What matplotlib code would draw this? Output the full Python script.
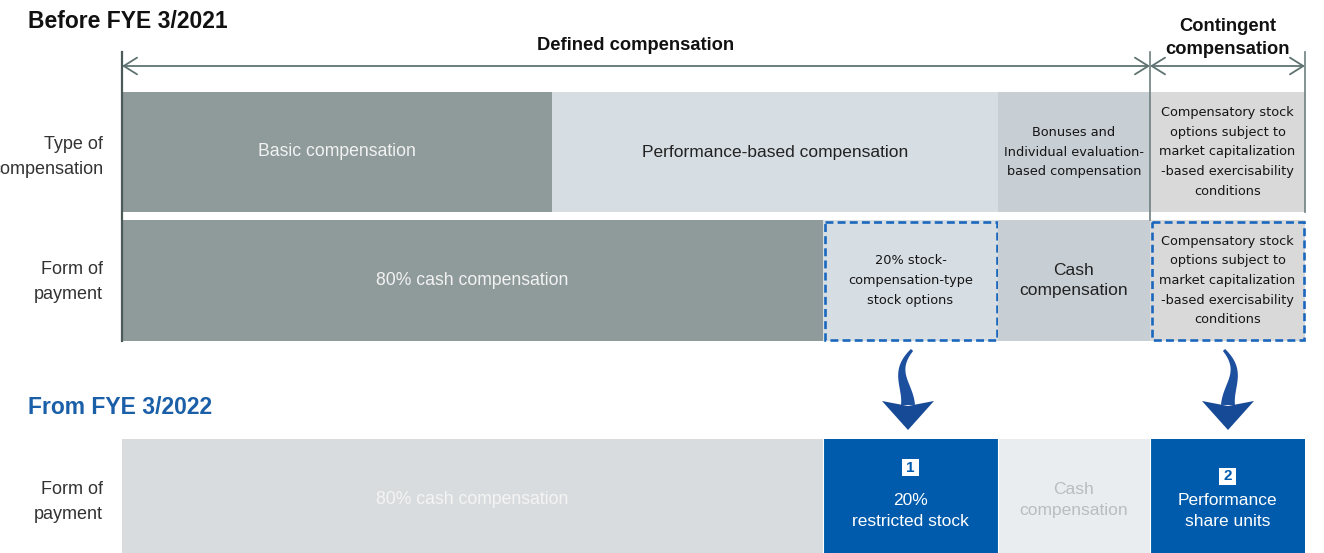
import numpy as np
import matplotlib.pyplot as plt
from matplotlib.patches import Rectangle, FancyArrowPatch, Polygon

plt.rcParams['font.family'] = ['Liberation Sans', 'DejaVu Sans']

# segment edges along the bar (pixel-like units of the layout)
type_edges = [122, 552, 998, 1150, 1305]
type_labels = ["Basic compensation", "Performance-based compensation",
               "Bonuses and\nIndividual evaluation-\nbased compensation",
               "Compensatory stock\noptions subject to\nmarket capitalization\n-based exercisability\nconditions"]

old_pay_edges = [122, 823, 998, 1150, 1305]
old_pay_labels = ["80% cash compensation", "20% stock-\ncompensation-type\nstock options",
                  "Cash\ncompensation",
                  "Compensatory stock\noptions subject to\nmarket capitalization\n-based exercisability\nconditions"]

new_pay_edges = [122, 823, 998, 1150, 1305]
new_pay_labels = ["80% cash compensation", "20%\nrestricted stock",
                  "Cash\ncompensation", "Performance\nshare units"]
new_badges = [None, "1", None, "2"]

group_edges = [122, 1150, 1305]
group_labels = ["Defined compensation", "Contingent\ncompensation"]

BLUE = '#005bac'
SANS = 'Liberation Sans'
NARROW = ['DejaVu Sans Condensed', 'DejaVu Sans']
SMALL = 9.3

fig = plt.figure(figsize=(13.24, 5.53), dpi=100)
ax = fig.add_axes([0, 0, 1, 1])
ax.set_xlim(0, 1324)
ax.set_ylim(553, 0)
ax.axis('off')


def draw_row(edges, labels, y0, y1, colors, tcolors, sizes, fams, dashed=()):
    for i, lab in enumerate(labels):
        x0, x1 = edges[i], edges[i + 1]
        ax.add_patch(Rectangle((x0, y0), x1 - x0, y1 - y0, facecolor=colors[i], edgecolor='none'))
        if i in dashed:
            ax.add_patch(Rectangle((x0 + 1.5, y0 + 1.5), x1 - x0 - 3, y1 - y0 - 3, facecolor='none',
                                   edgecolor='#1b67bd', lw=1.9, ls=(0, (3.0, 1.6))))
        ls = 1.66 if sizes[i] == SMALL else 1.45
        ax.text((x0 + x1) / 2, (y0 + y1) / 2, lab, ha='center', va='center', color=tcolors[i],
                fontsize=sizes[i], family=fams[i], linespacing=ls)


def curved_arrow(x0, xc, xe):
    # tapered cubic shaft + triangular head
    t = np.linspace(0, 1, 60)[:, None]
    P = np.array([[x0, 350], [xc, 372], [xe, 385], [xe, 405]])
    pts = ((1 - t) ** 3 * P[0] + 3 * (1 - t) ** 2 * t * P[1]
           + 3 * (1 - t) * t ** 2 * P[2] + t ** 3 * P[3])
    d = np.gradient(pts, axis=0)
    n = np.stack([-d[:, 1], d[:, 0]], axis=1)
    n /= np.linalg.norm(n, axis=1, keepdims=True)
    w = (1.5 + 5.5 * t).ravel()[:, None]
    poly = np.vstack([pts + n * w, (pts - n * w)[::-1]])
    ax.add_patch(Polygon(poly, closed=True, facecolor='#1c4f9e', edgecolor='none'))
    ax.add_patch(Polygon([(xe - 26, 401), (xe, 406), (xe + 26, 401), (xe, 430)], closed=True,
                         facecolor='#174a96', edgecolor='none'))


# titles
ax.text(28, 21, "Before FYE 3/2021", fontsize=16.5, fontweight='bold', va='center', color='#111111')
ax.text(28, 408, "From FYE 3/2022", fontsize=16.5, fontweight='bold', va='center', color='#1a5fa8')

# group header arrows
for i, lab in enumerate(group_labels):
    a, b = group_edges[i], group_edges[i + 1]
    ax.add_patch(FancyArrowPatch((a, 66), (b, 66), arrowstyle='<->,head_length=0.8,head_width=0.5',
                                 mutation_scale=12, lw=1.3, color='#5f7272', shrinkA=0, shrinkB=0))
ax.text(636, 46, group_labels[0], ha='center', va='center', fontsize=13.2, fontweight='bold', color='#111111')
ax.text(1228, 38, group_labels[1], ha='center', va='center', fontsize=13.2, fontweight='bold',
        color='#111111', linespacing=1.4)

ax.plot([122, 122], [52, 341], color='#4c5a5a', lw=1.6)
ax.plot([1150, 1150], [52, 220], color='#6f7f7f', lw=1.2)
ax.plot([1305, 1305], [52, 212], color='#6f7f7f', lw=1.2)

# left row labels
for y in (157, 282, 502):
    lab = "Type of\ncompensation" if y == 157 else "Form of\npayment"
    ax.text(103, y, lab, ha='right', va='center', fontsize=13, color='#333333', linespacing=1.55)

draw_row(type_edges, type_labels, 92, 212,
         ['#8f9a9a', '#d6dde3', '#c7ced4', '#d9d9d9'],
         ['#f2f2f2', '#222222', '#151515', '#151515'],
         [12.7, 12.5, SMALL, SMALL], [SANS, SANS, NARROW, NARROW])
draw_row(old_pay_edges, old_pay_labels, 220, 341,
         ['#8f9a9a', '#d6dde3', '#c7ced4', '#d9d9d9'],
         ['#f2f2f2', '#151515', '#222222', '#151515'],
         [12.7, SMALL, 12.5, SMALL], [SANS, NARROW, SANS, NARROW], dashed=(1, 3))
draw_row(new_pay_edges, new_pay_labels, 439, 561,
         ['#d9dcde', BLUE, '#eaedf0', BLUE],
         ['#f4f4f4', 'white', '#b9bdc0', 'white'],
         [12.7, 12.5, 12.5, 12.5], [SANS] * 4)

# thin separators on bottom row
for x in new_pay_edges[1:-1]:
    ax.plot([x, x], [439, 553], color='white', lw=0.8)

# shift texts in blue boxes down and add badges
for t in ax.texts:
    if t.get_text() in ("20%\nrestricted stock", "Performance\nshare units"):
        t.set_y(511)
for i, b in enumerate(new_badges):
    if b:
        cx = (new_pay_edges[i] + new_pay_edges[i + 1]) / 2
        cy = 467 if b == "1" else 476
        ax.add_patch(Rectangle((cx - 8.5, cy - 8.5), 17, 17, facecolor='white', edgecolor='none'))
        ax.text(cx, cy + 0.5, b, ha='center', va='center', fontsize=11, fontweight='bold', color=BLUE)

# curved transition arrows
curved_arrow(912, 892, 908)
curved_arrow(1224, 1244, 1228)

fig.savefig('out.png', dpi=100)
